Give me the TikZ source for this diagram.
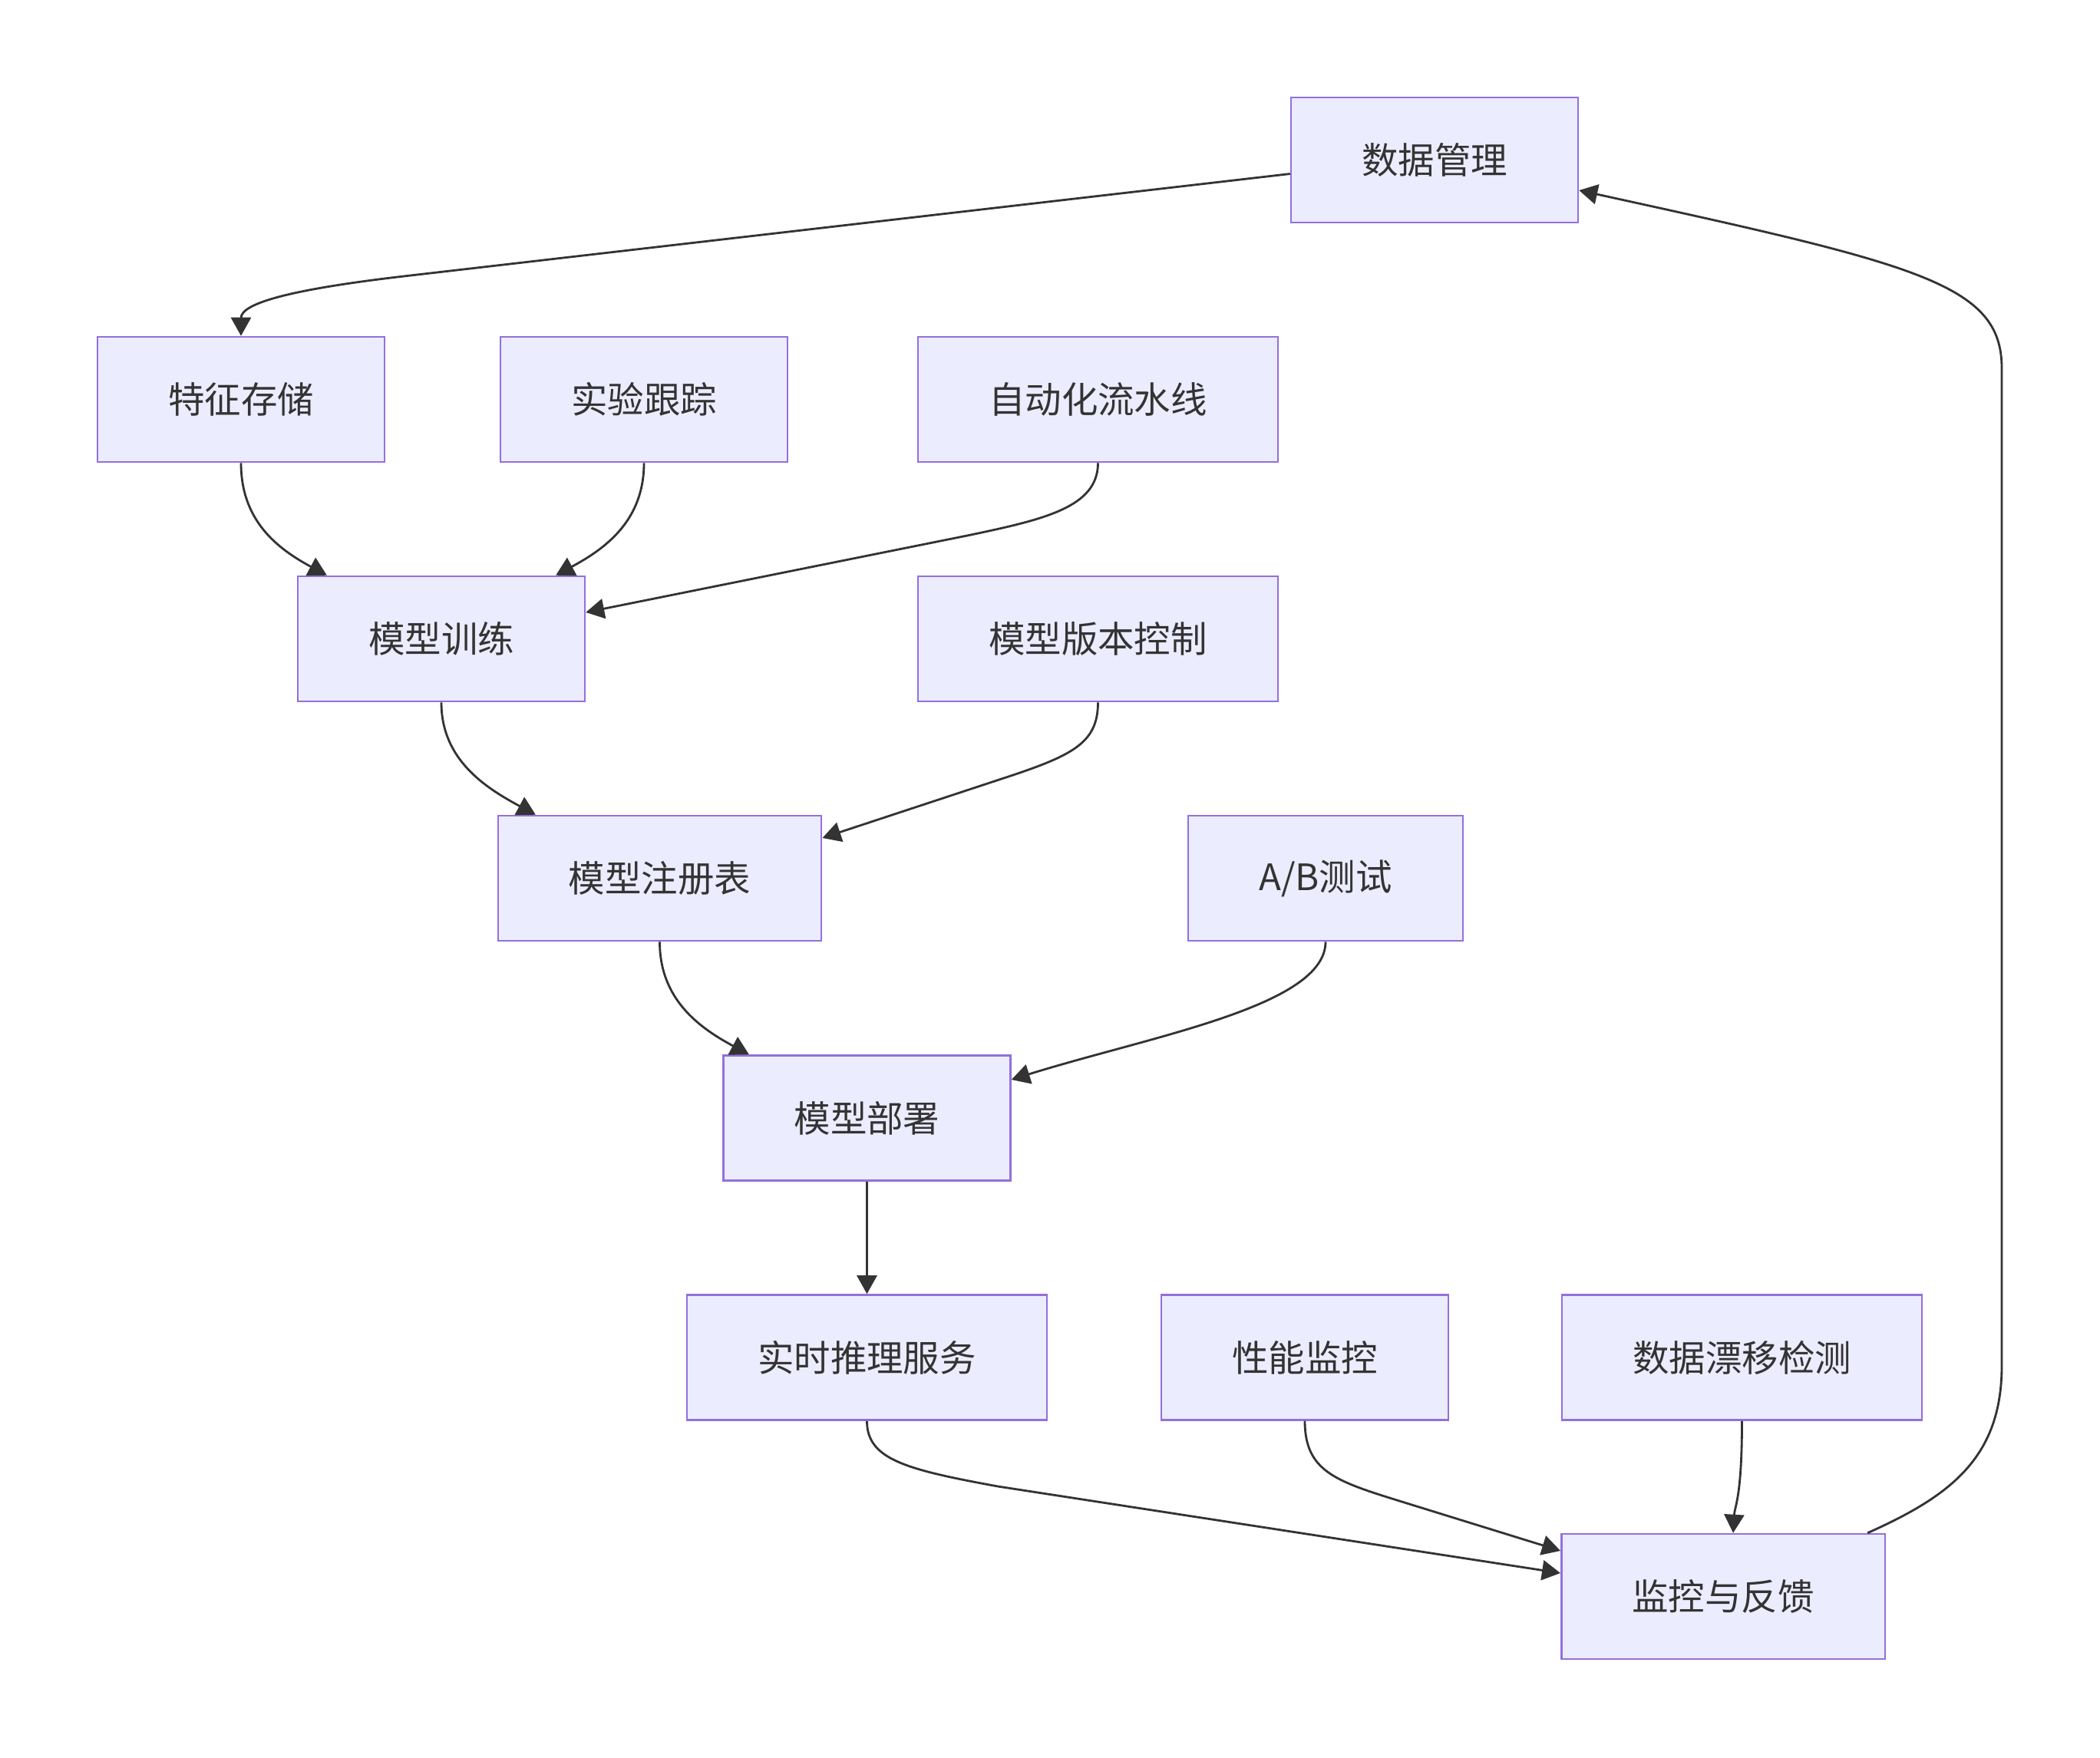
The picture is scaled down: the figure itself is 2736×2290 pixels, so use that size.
\documentclass[tikz,border=0pt]{standalone}
\usepackage{fontspec}
\setmainfont{Noto Sans CJK SC}
\usetikzlibrary{arrows.meta}
\definecolor{boxfill}{HTML}{ECECFF}
\definecolor{boxline}{HTML}{9370DB}
\definecolor{edgeline}{HTML}{333333}
\begin{document}
\begin{tikzpicture}[x=0.01cm,y=-0.01cm,
  stage/.style={draw=boxline,fill=boxfill,line width=0.7pt,text=edgeline,
    font=\fontsize{13.5}{16}\selectfont,minimum height=1.63cm,inner xsep=0.92cm},
  flow/.style={draw=edgeline,line width=0.8pt,-{Triangle[length=0.24cm,width=0.26cm]}}]
\useasboundingbox (0,0) rectangle (2736,2290);
\node[stage] (dm) at (1869,208.5) {数据管理};
\node[stage] (fs) at (314,520.5) {特征存储}; \node[stage] (exp) at (839,520.5) {实验跟踪}; \node[stage] (auto) at (1430.5,520.5) {自动化流水线};
\node[stage] (train) at (575,832.5) {模型训练}; \node[stage] (ver) at (1430.5,832.5) {模型版本控制};
\node[stage] (reg) at (859.5,1144.5) {模型注册表}; \node[stage] (ab) at (1727,1144.5) {A/B测试};
\node[stage] (dep) at (1129.5,1457) {模型部署};
\node[stage] (inf) at (1129.5,1769) {实时推理服务}; \node[stage] (perf) at (1700,1769) {性能监控}; \node[stage] (drift) at (2269.5,1769) {数据漂移检测};
\node[stage] (fb) at (2245,2080.5) {监控与反馈};
\draw[flow] ([yshift=-0.18cm]dm.west) -- (526,360) .. controls (380,377) and (314,395) .. (fs.north);
\draw[flow] (fs.south) .. controls +(0,75) and +(-65,-35) .. ([xshift=-1.49cm]train.north);
\draw[flow] (exp.south) .. controls +(0,75) and +(65,-35) .. ([xshift=1.49cm]train.north);
\draw[flow] (auto.south) .. controls +(0,58) and (1360,677) .. (1260,698) -- ([yshift=0.345cm]train.east);
\draw[flow] (train.south) .. controls +(0,75) and +(-65,-35) .. ([xshift=-1.615cm]reg.north);
\draw[flow] (ver.south) .. controls +(0,51) and (1400,983) .. (1320,1010) -- ([yshift=0.525cm]reg.east);
\draw[flow] (reg.south) .. controls +(0,75) and +(-65,-35) .. ([xshift=-1.535cm]dep.north);
\draw[flow] (ab.south) .. controls +(0,84) and (1500,1350) .. ([yshift=0.5cm]dep.east);
\draw[flow] (dep.south) -- (inf.north);
\draw[flow] (inf.south) .. controls +(0,50) and (1180,1915) .. (1300,1937) -- ([yshift=0.305cm]fb.west);
\draw[flow] (perf.south) .. controls +(0,65) and (1740,1930) .. (1820,1955) -- ([yshift=0.595cm]fb.west);
\draw[flow] (drift.south) .. controls +(0,100) and +(2,-35) .. ([xshift=0.13cm]fb.north);
\draw[flow] ([xshift=1.88cm]fb.north) .. controls (2540,1950) and (2608,1900) .. (2608,1780) -- (2608,480) .. controls (2608,370) and (2500,345) .. ([yshift=-0.395cm]dm.east);
\end{tikzpicture}
\end{document}
